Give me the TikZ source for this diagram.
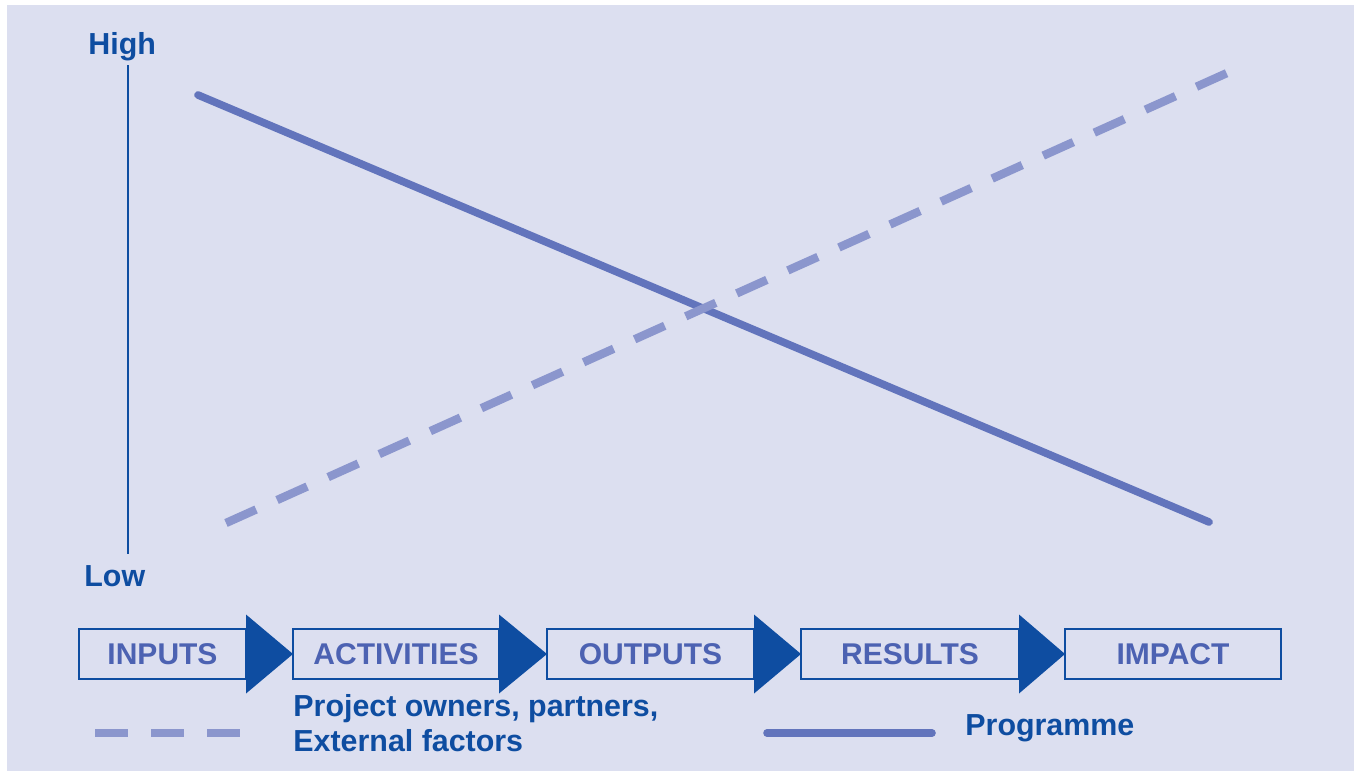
\documentclass[tikz,border=0pt]{standalone}
\usepackage{fontspec}
\setmainfont{Liberation Sans}
\usetikzlibrary{calc}
\definecolor{bgcol}{RGB}{220,223,240}
\definecolor{navy}{RGB}{14,77,161}
\definecolor{boxtext}{RGB}{76,98,178}
\definecolor{progline}{RGB}{98,116,188}
\definecolor{partline}{RGB}{139,150,205}

\begin{document}
\begin{tikzpicture}[x=.5pt,y=-.5pt,
  lbl/.style={font=\fontsize{15.2}{17.5}\selectfont\bfseries,text=navy,inner sep=0},
  stage/.style={draw=navy,line width=1pt,inner sep=0,outer sep=0,minimum height=25pt,
    font=\fontsize{15}{17.5}\selectfont\bfseries,text=boxtext},
  prog/.style={progline,line width=3.8pt,line cap=round},
  part/.style={partline,line width=4.2pt,dash pattern=on 16.5pt off 11.5pt}]
\fill[white] (0,0) rectangle (1358,771);
\fill[bgcol] (7,5) rectangle (1354,771);
\node[lbl,anchor=base west] (high) at (88,54) {High};
\node[lbl,anchor=base west] (low) at (84,586) {Low};
\coordinate (axistop) at (128,65);
\coordinate (axisbot) at (128,554);
\draw[navy,line width=1pt] (axistop) -- (axisbot);
\coordinate (progstart) at (198,95);
\coordinate (progend) at (1209,522);
\draw[prog] (progstart) -- (progend);
\coordinate (partstart) at (226,523);
\coordinate (partend) at (1227,73);
\draw[part] (partstart) -- (partend);
\node[stage,minimum width=83.5pt] (inputs) at (162.5,654) {INPUTS};
\node[stage,minimum width=103pt] (activities) at (396,654) {ACTIVITIES};
\node[stage,minimum width=103.5pt] (outputs) at (650.5,654) {OUTPUTS};
\node[stage,minimum width=109pt] (results) at (910,654) {RESULTS};
\node[stage,minimum width=108pt] (impact) at (1173,654) {IMPACT};
\foreach \a/\b in {inputs/activities,activities/outputs,outputs/results,results/impact}
  \fill[navy] ($(\a.east)+(0,-39.5)$) -- (\b.west) -- ($(\a.east)+(0,39.5)$) -- cycle;
\coordinate (partkeyA) at (95,733);
\coordinate (partkeyB) at (240,733);
\draw[part] (partkeyA) -- (partkeyB);
\node[lbl,anchor=north west,align=left] (partkey) at (293,694) {Project owners, partners,\\External factors};
\coordinate (progkeyA) at (767,733);
\coordinate (progkeyB) at (932,733);
\draw[prog] (progkeyA) -- (progkeyB);
\node[lbl,anchor=base west] (progkey) at (965,735) {Programme};
\end{tikzpicture}
\end{document}
